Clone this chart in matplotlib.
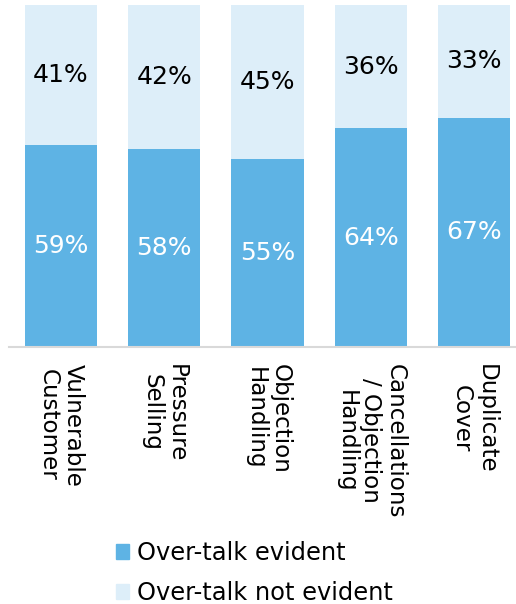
import numpy as np
import matplotlib
matplotlib.use("Agg")
import matplotlib.pyplot as plt
from matplotlib.patches import Patch

categories = ["Vulnerable\nCustomer", "Pressure\nSelling", "Objection\nHandling",
              "Cancellations\n/ Objection\nHandling", "Duplicate\nCover"]
evident = [59, 58, 55, 64, 67]
not_evident = [41, 42, 45, 36, 33]

blue = "#5EB3E4"
light = "#DDEEF9"

fig = plt.figure(figsize=(5.16, 6.04), dpi=100)
ax = fig.add_axes([0.0182, 0.4255, 1.0005, 0.5662])

x = np.arange(len(categories))
ax.bar(x, evident, width=0.7, color=blue)
ax.bar(x, not_evident, width=0.7, bottom=evident, color=light)

for i in range(len(categories)):
    ax.text(x[i], evident[i] / 2, f"{evident[i]}%", ha="center", va="center",
            color="white", fontsize=18, family="DejaVu Sans")
    ax.text(x[i], evident[i] + not_evident[i] / 2, f"{not_evident[i]}%", ha="center",
            va="center", color="black", fontsize=18, family="DejaVu Sans")

ax.set_xlim(-0.5, 4.5)
ax.set_ylim(0, 100)
ax.set_yticks([])
ax.set_xticks(x)
ax.set_xticklabels(categories, rotation=270, fontsize=16.6, family="DejaVu Sans",
                   multialignment="center", linespacing=1.1)
ax.tick_params(axis="x", length=0, pad=12)
for s in ["top", "left", "right"]:
    ax.spines[s].set_visible(False)
ax.spines["bottom"].set_color("#d9d9d9")
ax.spines["bottom"].set_linewidth(1.5)

handles = [Patch(color=blue, label="Over-talk evident"),
           Patch(color=light, label="Over-talk not evident")]
fig.legend(handles=handles, loc="upper left", bbox_to_anchor=(0.225, 0.104),
           frameon=False, prop={"family": "DejaVu Sans", "size": 17.4},
           handlelength=0.55, handleheight=0.55, handletextpad=0.3,
           labelspacing=0.65, borderpad=0, borderaxespad=0)

fig.savefig("out.png", dpi=100)
